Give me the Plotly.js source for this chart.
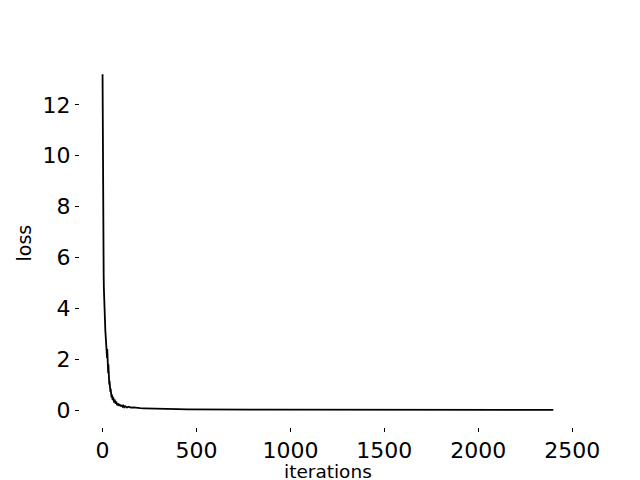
<!DOCTYPE html>
<html>
<head>
<meta charset="utf-8">
<script src="https://cdn.plot.ly/plotly-3.0.1.min.js"></script>
<style>body{margin:0;padding:0;background:#fff}#chart{width:640px;height:480px}</style>
</head>
<body>
<div id="chart"></div>
<script>
const iterations = [0,1,2,3,4,5,6,7,8,9,10,11,12,13,14,15,16,17,18,19,20,21,22,23,24,25,26,27,28,29,30,31,32,33,34,35,36,37,38,39,40,41,42,43,44,45,46,47,48,49,50,52,54,56,58,60,62,64,66,68,70,72,74,76,78,80,83,86,90,94,98,102,106,110,115,120,130,140,150,165,180,200,220,250,280,320,360,400,450,500,600,700,800,900,1000,1200,1400,1600,1800,2000,2200,2399];
const loss = [13.2,10.1,7.6,6.2,5.6,9.5,5.3,4.8,4.4,4.2,3.9,3.6,3.5,3.3,3.2,3.1,3.0,2.9,2.8,2.7,2.6,2.5,2.35,2.2,2.05,2.4,1.85,1.7,2.3,1.55,1.45,1.8,1.3,1.45,1.15,1.3,1.0,1.15,0.9,1.0,0.8,0.95,0.72,0.85,0.65,0.8,0.58,0.7,0.5,0.62,0.45,0.6,0.4,0.52,0.36,0.48,0.3,0.42,0.28,0.38,0.25,0.34,0.22,0.3,0.2,0.27,0.18,0.25,0.17,0.22,0.15,0.2,0.14,0.18,0.12,0.16,0.11,0.14,0.1,0.11,0.09,0.08,0.075,0.065,0.06,0.05,0.045,0.04,0.035,0.03,0.027,0.025,0.023,0.022,0.021,0.02,0.019,0.018,0.017,0.016,0.016,0.015];
const xTicks = [0,500,1000,1500,2000,2500];
const yTicks = [0,2,4,6,8,10,12];
const xTitle = 'iterations';
const yTitle = 'loss';

Plotly.newPlot('chart', [{
  x: iterations, y: loss, type: 'scatter', mode: 'lines',
  line: {color: '#000000', width: 1.8}, hoverinfo: 'none'
}], {
  width: 640, height: 480,
  margin: {l: 80, r: 64, t: 57.6, b: 52.8},
  paper_bgcolor: '#ffffff', plot_bgcolor: '#ffffff',
  showlegend: false,
  font: {family: 'DejaVu Sans', color: '#000000'},
  xaxis: {
    range: [-120, 2520], tickvals: xTicks, ticktext: xTicks.map(String),
    showgrid: false, zeroline: false, showline: false,
    ticks: 'outside', ticklen: 4, tickwidth: 1, tickcolor: '#000',
    tickfont: {size: 22, family: 'DejaVu Sans'}
  },
  yaxis: {
    range: [-0.66, 13.84], tickvals: yTicks, ticktext: yTicks.map(String),
    showgrid: false, zeroline: false, showline: false,
    ticks: 'outside', ticklen: 4, tickwidth: 1, tickcolor: '#000',
    tickfont: {size: 22, family: 'DejaVu Sans'}
  },
  annotations: [
    {text: xTitle, xref: 'paper', yref: 'paper', x: 0.5, y: -0.121,
     xanchor: 'center', yanchor: 'middle', showarrow: false, borderpad: 0,
     font: {size: 18.5, family: 'DejaVu Sans', color: '#000'}},
    {text: yTitle, xref: 'paper', yref: 'paper', x: -0.113, y: 0.5,
     xanchor: 'center', yanchor: 'middle', showarrow: false, textangle: -90, borderpad: 0,
     font: {size: 19, family: 'DejaVu Sans', color: '#000'}}
  ]
}, {staticPlot: true});
</script>
</body>
</html>
